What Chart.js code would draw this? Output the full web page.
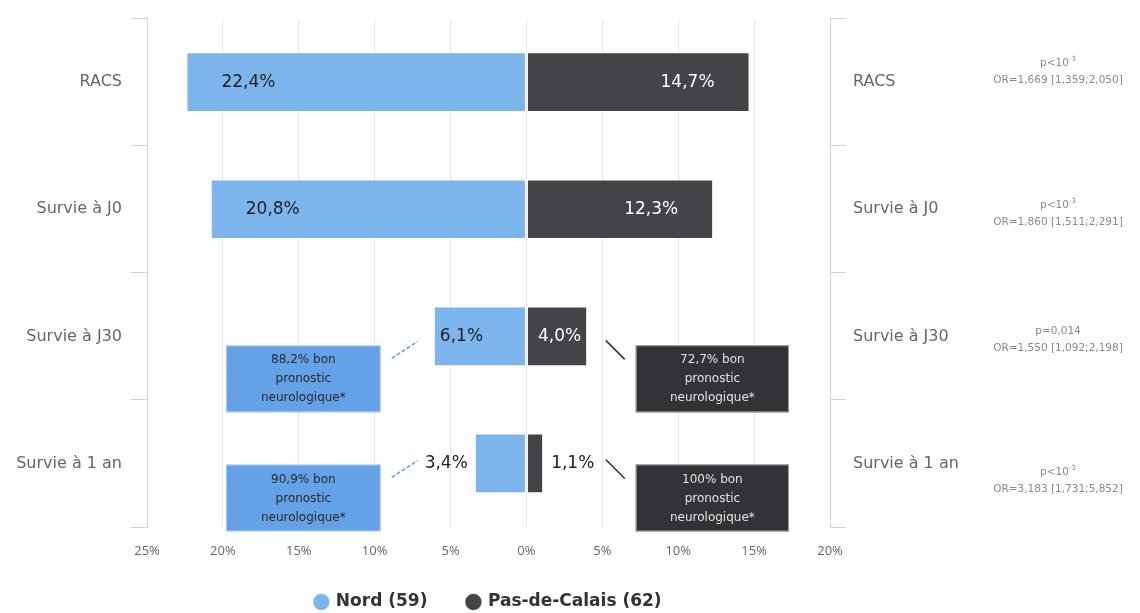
<!DOCTYPE html>
<html>
<head>
<meta charset="utf-8">
<script src="https://cdn.jsdelivr.net/npm/chart.js@4"></script>
<style>
  html, body { margin: 0; padding: 0; background: #fff; }
</style>
</head>
<body>
<canvas id="chart" width="1140" height="613"></canvas>
<script>
const categories = ['RACS', 'Survie à J0', 'Survie à J30', 'Survie à 1 an'];
const nord = [22.4, 20.8, 6.1, 3.4];
const pasDeCalais = [14.7, 12.3, 4.0, 1.1];
const pValues = ['p<10^-3', 'p<10^-3', 'p=0,014', 'p<10^-3'];
const oddsRatios = ['OR=1,669 [1,359;2,050]', 'OR=1,860 [1,511;2,291]', 'OR=1,550 [1,092;2,198]', 'OR=3,183 [1,731;5,852]'];
const goodNeuroNord = [null, null, '88,2%', '90,9%'];
const goodNeuroPdc = [null, null, '72,7%', '100%'];
const xTicks = [-25, -20, -15, -10, -5, 0, 5, 10, 15, 20];

// layout of the side notes (not data)
const statOffset = [-19, -4, -5, 9];
const noteTopOffset = [0, 0, 9, 1];
const noteNordRange = [-19.8, -9.6];
const notePdcRange = [7.2, 17.3];

const DEJA = "'DejaVu Sans', sans-serif";
const OPEN = "'Open Sans', sans-serif";
Chart.defaults.font.family = DEJA;

const fmt = v => v.toFixed(1).replace('.', ',') + '%';

// value labels on the bars
const barLabels = {
    id: 'barLabels',
    afterDatasetsDraw(chart) {
        const ctx = chart.ctx;
        ctx.save();
        ctx.font = '17px ' + DEJA;
        ctx.textBaseline = 'middle';
        chart.data.datasets.forEach((ds, di) => {
            const meta = chart.getDatasetMeta(di);
            meta.data.forEach((bar, i) => {
                const text = fmt(Math.abs(ds.data[i]));
                const tw = ctx.measureText(text).width;
                const len = Math.abs(bar.x - bar.base);
                const left = bar.x < bar.base;
                let pad = null;
                if (len >= tw + 70) pad = 35;
                else if (len >= tw + 12) pad = 6;
                if (pad !== null) {
                    ctx.fillStyle = di === 0 ? '#222' : '#fff';
                    ctx.textAlign = left ? 'left' : 'right';
                    ctx.fillText(text, left ? bar.x + pad : bar.x - pad, bar.y);
                } else {
                    ctx.fillStyle = '#222';
                    ctx.textAlign = left ? 'right' : 'left';
                    ctx.fillText(text, left ? bar.x - 7 : bar.x + 8, bar.y);
                }
            });
        });
        ctx.restore();
    }
};

function drawSup(ctx, text, cx, y) {
    const parts = text.split('^');
    ctx.font = '10.5px ' + DEJA;
    const bw = ctx.measureText(parts[0]).width;
    ctx.font = '7px ' + DEJA;
    const sw = parts[1] ? ctx.measureText(parts[1]).width : 0;
    const x = cx - (bw + sw) / 2;
    ctx.textAlign = 'left';
    ctx.font = '10.5px ' + DEJA;
    ctx.fillText(parts[0], x, y);
    if (parts[1]) {
        ctx.font = '7px ' + DEJA;
        ctx.fillText(parts[1], x + bw, y - 4);
    }
}

// p-values, odds ratios and neuro prognosis boxes
const notes = {
    id: 'notes',
    afterLayout(chart) {
        // give the x tick labels room below the axis box
        chart.scales.x.bottom = chart.height;
    },
    afterDraw(chart) {
        const ctx = chart.ctx;
        const xs = chart.scales.x;
        const ys = chart.scales.y;
        ctx.save();
        ctx.textBaseline = 'middle';
        categories.forEach((c, i) => {
            const cy = ys.getPixelForValue(i);
            ctx.fillStyle = '#8a8a8a';
            drawSup(ctx, pValues[i], 1058, cy + statOffset[i]);
            ctx.font = '10.5px ' + DEJA;
            ctx.textAlign = 'center';
            ctx.fillText(oddsRatios[i], 1058, cy + statOffset[i] + 17);

            const top = cy + noteTopOffset[i];
            const h = 67;
            const lines = v => [v + ' bon', 'pronostic', 'neurologique*'];
            if (goodNeuroNord[i]) {
                const l = xs.getPixelForValue(noteNordRange[0]);
                const r = xs.getPixelForValue(noteNordRange[1]);
                ctx.fillStyle = '#65a1e6';
                ctx.fillRect(l, top, r - l, h);
                ctx.strokeStyle = 'rgba(255,255,255,0.5)';
                ctx.lineWidth = 1;
                ctx.strokeRect(l + 0.5, top + 0.5, r - l - 1, h - 1);
                ctx.fillStyle = '#2a2a2a';
                ctx.font = '12px ' + DEJA;
                ctx.textAlign = 'center';
                lines(goodNeuroNord[i]).forEach((t, k) => {
                    ctx.fillText(t, (l + r) / 2, top + 15 + k * 19);
                });
                ctx.strokeStyle = '#5f9de6';
                ctx.lineWidth = 1.5;
                ctx.setLineDash([4, 2]);
                ctx.beginPath();
                ctx.moveTo(r + 11, top + 13);
                ctx.lineTo(r + 37, top - 4);
                ctx.stroke();
                ctx.setLineDash([]);
            }
            if (goodNeuroPdc[i]) {
                const l = xs.getPixelForValue(notePdcRange[0]);
                const r = xs.getPixelForValue(notePdcRange[1]);
                ctx.fillStyle = '#333337';
                ctx.fillRect(l, top, r - l, h);
                ctx.strokeStyle = 'rgba(190,190,190,0.8)';
                ctx.lineWidth = 1;
                ctx.strokeRect(l + 0.5, top + 0.5, r - l - 1, h - 1);
                ctx.fillStyle = '#e2e2e2';
                ctx.font = '12px ' + DEJA;
                ctx.textAlign = 'center';
                lines(goodNeuroPdc[i]).forEach((t, k) => {
                    ctx.fillText(t, (l + r) / 2, top + 15 + k * 19);
                });
                ctx.strokeStyle = '#333';
                ctx.lineWidth = 1.5;
                ctx.beginPath();
                ctx.moveTo(l - 30, top - 5);
                ctx.lineTo(l - 11, top + 14);
                ctx.stroke();
            }
        });
        ctx.restore();
    }
};

const axisColor = '#ccd6eb';

new Chart(document.getElementById('chart'), {
    type: 'bar',
    data: {
        labels: categories,
        datasets: [{
            label: 'Nord (59)',
            data: nord.map(v => -v),
            backgroundColor: '#7cb5ec',
            borderColor: 'rgba(255,255,255,0.6)',
            borderWidth: 1,
            borderSkipped: false,
            barPercentage: 0.47,
            categoryPercentage: 1
        }, {
            label: 'Pas-de-Calais (62)',
            data: pasDeCalais,
            backgroundColor: '#434348',
            borderColor: 'rgba(255,255,255,0.6)',
            borderWidth: 1,
            borderSkipped: false,
            barPercentage: 0.47,
            categoryPercentage: 1
        }]
    },
    options: {
        indexAxis: 'y',
        responsive: false,
        animation: false,
        layout: { padding: { top: 17, bottom: -7.5, left: 0, right: 0 } },
        scales: {
            x: {
                stacked: true,
                min: -25,
                max: 20,
                afterBuildTicks: s => { s.ticks = xTicks.map(v => ({ value: v })); },
                afterFit: s => { s.height = 26.5; },
                grid: { color: '#e6e6e6', drawTicks: false },
                border: { display: false },
                ticks: {
                    padding: 16,
                    color: '#666',
                    font: { size: 13, family: OPEN },
                    callback: v => Math.abs(v) + '%'
                }
            },
            y: {
                type: 'category',
                stacked: true,
                offset: true,
                afterFit: s => { s.width = 147; },
                grid: { offset: true, drawOnChartArea: false, color: axisColor, tickLength: 16 },
                border: { color: axisColor },
                ticks: { padding: 9, color: '#666', font: { size: 16 } }
            },
            y2: {
                type: 'category',
                position: 'right',
                labels: categories,
                offset: true,
                afterFit: s => { s.width = 310; },
                grid: { offset: true, drawOnChartArea: false, color: axisColor, tickLength: 16 },
                border: { color: axisColor },
                ticks: { padding: 7, color: '#666', font: { size: 16 } }
            }
        },
        plugins: {
            tooltip: { enabled: false },
            legend: {
                position: 'bottom',
                fullSize: false,
                labels: {
                    usePointStyle: true,
                    pointStyle: 'circle',
                    boxHeight: 12,
                    boxWidth: 12,
                    padding: 40,
                    color: '#333',
                    font: { size: 17, weight: 'bold' }
                }
            }
        }
    },
    plugins: [barLabels, notes]
});
</script>
</body>
</html>
